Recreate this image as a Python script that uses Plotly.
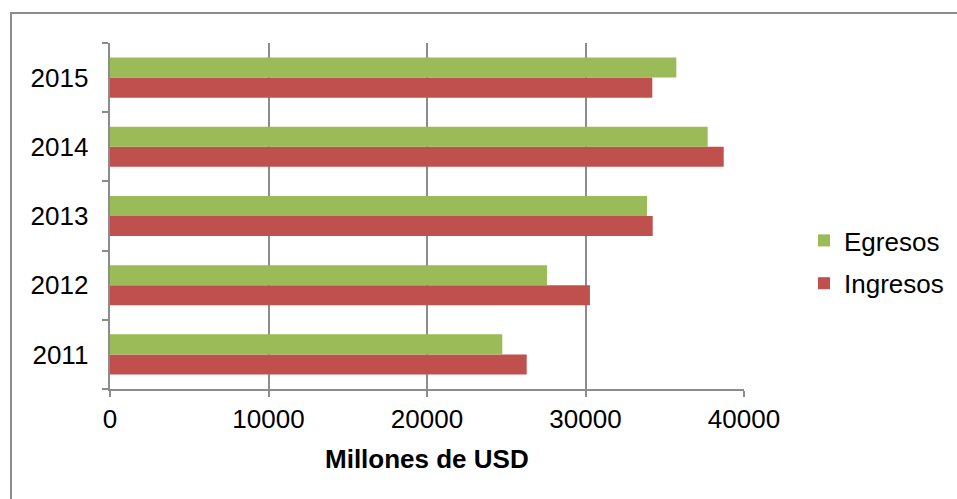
import plotly.graph_objects as go

years = ["2011", "2012", "2013", "2014", "2015"]
ingresos = [26290, 30280, 34240, 38720, 34215]
egresos = [24750, 27570, 33880, 37710, 35730]
x_ticks = [0, 10000, 20000, 30000, 40000]

GREEN = "#9bbb59"
RED = "#c0504d"
GRID = "#8c8c8c"
FONT = "Liberation Sans, Arial, sans-serif"
FS = 26

fig = go.Figure()
fig.add_trace(go.Bar(y=years, x=ingresos, name="Ingresos", orientation="h",
                     legendgroup="ing", legendrank=2,
                     marker=dict(color=RED, line=dict(width=0))))
fig.add_trace(go.Bar(y=years, x=egresos, name="Egresos", orientation="h",
                     legendgroup="egr", legendrank=1,
                     marker=dict(color=GREEN, line=dict(width=0))))

W, H = 957, 499
L, R, T, B = 110, 213, 43, 110
pw, ph = W - L - R, H - T - B

def px_x(p):
    return (p - L) / pw

def px_y(p):
    return (H - B - p) / ph

fig.update_layout(
    width=W, height=H,
    margin=dict(l=L, r=R, t=T, b=B, pad=0, autoexpand=False),
    paper_bgcolor="white", plot_bgcolor="white",
    barmode="group", bargap=0.42, bargroupgap=0,
    font=dict(family=FONT, size=FS, color="black"),
    xaxis=dict(range=[0, 40000], tickvals=x_ticks, ticktext=[str(v) for v in x_ticks],
               showgrid=True, gridcolor=GRID, gridwidth=1.5,
               showline=True, linecolor=GRID, linewidth=2,
               ticks="outside", ticklen=6, tickcolor=GRID, tickwidth=2,
               zeroline=False, automargin=False,
               tickfont=dict(size=FS)),
    yaxis=dict(type="category", categoryorder="array", categoryarray=years,
               showgrid=False, showline=True, linecolor=GRID, linewidth=2,
               ticks="outside", tickson="boundaries", ticklen=6, tickcolor=GRID, tickwidth=2,
               automargin=False, tickfont=dict(size=FS), ticksuffix="  "),
    legend=dict(traceorder="grouped", tracegroupgap=6,
                xref="container", yref="container",
                x=804 / W, y=1 - 217 / H, xanchor="left", yanchor="top",
                font=dict(size=FS), bgcolor="rgba(0,0,0,0)", itemwidth=30),
    annotations=[dict(text="<b>Millones de USD</b>", xref="paper", yref="paper",
                      x=px_x(427), y=px_y(459), xanchor="center", yanchor="middle",
                      showarrow=False, font=dict(size=FS))],
    shapes=[dict(type="rect", xref="paper", yref="paper",
                 x0=px_x(11), y0=px_y(560), x1=px_x(1000), y1=px_y(13),
                 line=dict(color=GRID, width=2), layer="below")],
)

fig.write_html("out.html")
